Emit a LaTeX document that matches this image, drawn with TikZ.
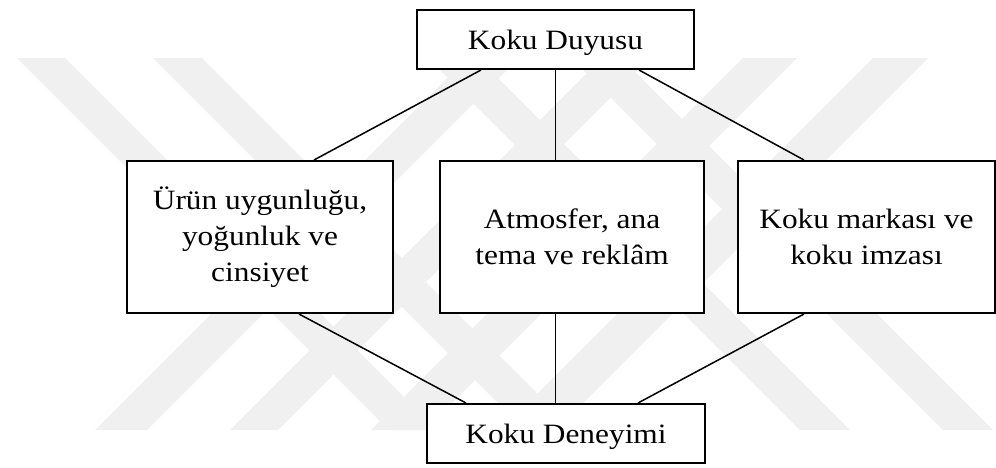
\documentclass[tikz,border=0pt]{standalone}
\usepackage{fontspec}
\setmainfont{Liberation Serif}[FakeStretch=1.12]
\usetikzlibrary{calc}
\definecolor{wm}{RGB}{240,240,240}
\begin{document}
\begin{tikzpicture}[x=1pt,y=-1pt,
  box/.style={draw=black, line width=2pt, fill=white, inner sep=0pt, align=center,
    font=\fontsize{28}{36}\selectfont},
  conn/.style={draw=black, line width=1.5pt},
  band/.style={fill=wm, draw=none}]
\useasboundingbox (0,0) rectangle (996,467);
% faint background watermark
\fill[band] (17,58) -- (65,58) -- (437,430) -- (389,430) -- cycle;
\fill[band] (153,58) -- (202,58) -- (574,430) -- (525,430) -- cycle;
\fill[band] (743,58) -- (797,58) -- (425,430) -- (371,430) -- cycle;
\fill[band] (873,58) -- (928,58) -- (556,430) -- (501,430) -- cycle;
\fill[band] (95,430) -- (147,430) -- (519,58) -- (467,58) -- cycle;
\fill[band] (230,430) -- (278,430) -- (650,58) -- (602,58) -- cycle;
\fill[band] (800,430) -- (850,430) -- (478,58) -- (428,58) -- cycle;
\fill[band] (943,430) -- (993,430) -- (621,58) -- (571,58) -- cycle;
% boxes
\node[box, minimum width=277pt, minimum height=59pt, text depth=0pt] (T) at (555.5,39.5) {Koku Duyusu};
\node[box, minimum width=266pt, minimum height=152pt] (L) at (260,237) {Ürün uygunluğu,\\yoğunluk ve\\cinsiyet};
\node[box, minimum width=264pt, minimum height=152pt] (M) at (572,237) {Atmosfer, ana\\tema ve reklâm};
\node[box, minimum width=257pt, minimum height=152pt] (R) at (866.5,237) {Koku markası ve\\koku imzası};
\node[box, minimum width=278pt, minimum height=59pt, text depth=0pt] (B) at (566,433.5) {Koku Deneyimi};
% connectors
\draw[conn] ($(T.south west)+(65,0)$) -- ($(L.north west)+(188,0)$);
\draw[conn] (T.south) -- (T.south |- M.north);
\draw[conn] ($(T.south west)+(223,0)$) -- ($(R.north west)+(67,0)$);
\draw[conn] ($(L.south west)+(173,0)$) -- ($(B.north west)+(40,0)$);
\draw[conn] (T.south |- M.south) -- (T.south |- B.north);
\draw[conn] ($(R.south west)+(67,0)$) -- ($(B.north west)+(212,0)$);
\end{tikzpicture}
\end{document}
